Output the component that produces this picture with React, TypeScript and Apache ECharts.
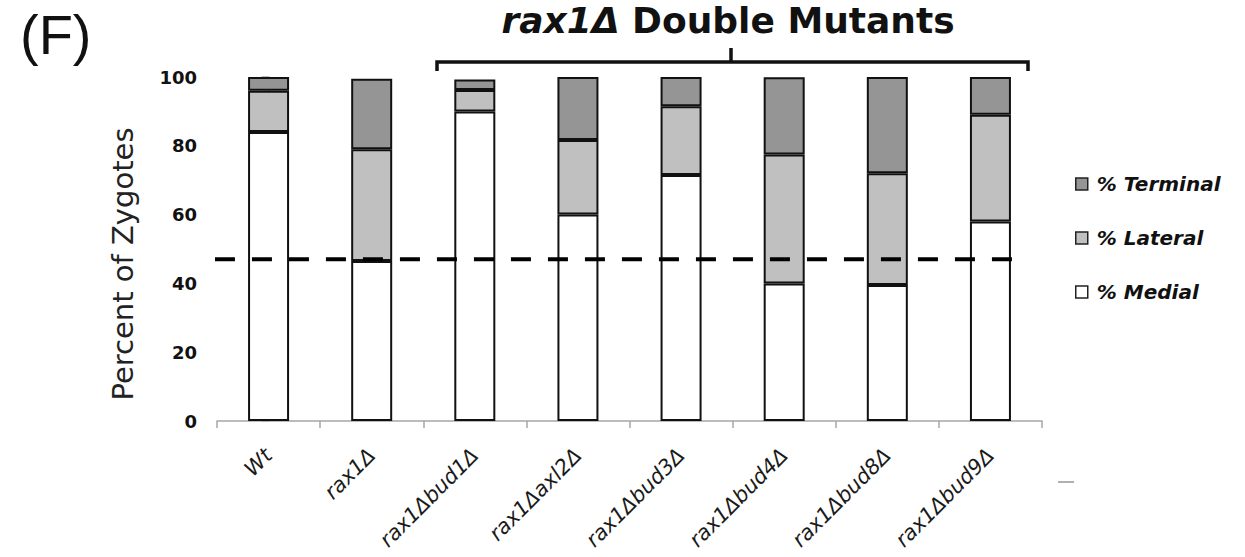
import React, { useEffect, useRef } from "react";
import * as echarts from "echarts";

const categories = [
  "Wt",
  "rax1Δ",
  "rax1Δbud1Δ",
  "rax1Δaxl2Δ",
  "rax1Δbud3Δ",
  "rax1Δbud4Δ",
  "rax1Δbud8Δ",
  "rax1Δbud9Δ",
];
const medial = [84, 46.5, 90, 60, 71.5, 40, 39.5, 58];
const lateral = [12, 32.5, 6.2, 21.7, 20, 37.5, 32.5, 31];
const terminal = [4, 20.5, 3.1, 18.3, 8.5, 22.4, 28, 11];
const threshold = 47;
const yTicks = { min: 0, max: 100, interval: 20 };
const legendOrder = ["% Terminal", "% Lateral", "% Medial"];
const titleItalic = "rax1Δ";
const titleRest = " Double Mutants";
const panelLabel = "(F)";
const yName = "Percent of Zygotes";

// dashed-line horizontal extent (in category units on a hidden value axis; style only)
const DASH_FROM = -0.52;
const DASH_TO = 7.27;

export default function App() {
  const ref = useRef<HTMLDivElement>(null);

  useEffect(() => {
    if (!ref.current) return;
    const chart = echarts.init(ref.current, undefined, { renderer: "svg" });
    const border = { borderColor: "#111", borderWidth: 2 };
    const barCommon = {
      type: "bar",
      stack: "total",
      barWidth: 41,
      xAxisIndex: 0,
      yAxisIndex: 0,
    };
    chart.setOption({
      animation: false,
      backgroundColor: "#ffffff",
      grid: { left: 217, right: 203, top: 77, bottom: 136, containLabel: false },
      legend: {
        orient: "vertical",
        left: 1070,
        top: 169,
        itemWidth: 12,
        itemHeight: 12,
        itemGap: 34,
        icon: "rect",
        data: legendOrder,
        textStyle: {
          fontFamily: "DejaVu Sans",
          fontWeight: "bold",
          fontStyle: "italic",
          fontSize: 20,
          color: "#111",
          padding: [0, 0, 0, 4],
        },
        itemStyle: { borderColor: "#222", borderWidth: 1.5 },
      },
      xAxis: [
        {
          type: "category",
          data: categories,
          axisLine: { lineStyle: { color: "#a6a6a6", width: 1.5 } },
          axisTick: { show: true, length: 7, lineStyle: { color: "#a6a6a6", width: 1.5 } },
          axisLabel: {
            rotate: 45,
            margin: 31,
            interval: 0,
            fontFamily: "DejaVu Sans",
            fontStyle: "italic",
            fontSize: 21,
            color: "#1a1a1a",
          },
        },
        {
          type: "value",
          min: -0.5,
          max: 7.5,
          show: false,
        },
      ],
      yAxis: {
        type: "value",
        min: yTicks.min,
        max: yTicks.max,
        interval: yTicks.interval,
        axisLine: { show: true, lineStyle: { color: "#a6a6a6", width: 1.5 } },
        axisTick: { show: true, length: 7, lineStyle: { color: "#a6a6a6", width: 1.5 } },
        splitLine: { show: false },
        axisLabel: {
          margin: 20,
          fontFamily: "DejaVu Sans",
          fontWeight: "bold",
          fontSize: 18,
          color: "#111",
        },
      },
      series: [
        {
          ...barCommon,
          name: "% Medial",
          data: medial,
          itemStyle: { color: "#ffffff", ...border },
        },
        {
          ...barCommon,
          name: "% Lateral",
          data: lateral,
          itemStyle: { color: "#c0c0c0", ...border },
        },
        {
          ...barCommon,
          name: "% Terminal",
          data: terminal,
          itemStyle: { color: "#959595", ...border },
        },
        {
          type: "line",
          name: "threshold",
          xAxisIndex: 1,
          yAxisIndex: 0,
          data: [
            [DASH_FROM, threshold],
            [DASH_TO, threshold],
          ],
          symbol: "none",
          clip: false,
          silent: true,
          z: 10,
          lineStyle: { color: "#000", width: 4, type: [20, 17] },
        },
      ],
      graphic: [
        {
          type: "text",
          left: 20,
          top: 6,
          style: {
            text: panelLabel,
            fontFamily: "Liberation Sans",
            fontSize: 56,
            fill: "#111",
          },
        },
        {
          type: "text",
          x: 123,
          y: 264,
          rotation: Math.PI / 2,
          style: {
            text: yName,
            align: "center",
            verticalAlign: "middle",
            fontFamily: "DejaVu Sans",
            fontSize: 29,
            fill: "#222",
          },
        },
        {
          type: "text",
          x: 728,
          y: 2,
          style: {
            text: `{i|${titleItalic}}{b|${titleRest}}`,
            align: "center",
            verticalAlign: "top",
            rich: {
              i: {
                fontFamily: "DejaVu Sans",
                fontWeight: "bold",
                fontStyle: "italic",
                fontSize: 36,
                fill: "#111",
              },
              b: {
                fontFamily: "DejaVu Sans",
                fontWeight: "bold",
                fontSize: 36,
                fill: "#111",
              },
            },
          },
        },
        {
          type: "polyline",
          shape: {
            points: [
              [437, 71],
              [437, 62],
              [1028, 62],
              [1028, 71],
            ],
          },
          style: { stroke: "#111", lineWidth: 3.5, fill: null },
        },
        {
          type: "line",
          shape: { x1: 731, y1: 62, x2: 731, y2: 48 },
          style: { stroke: "#111", lineWidth: 3.5 },
        },
        {
          type: "line",
          shape: { x1: 1058, y1: 482, x2: 1074, y2: 482 },
          style: { stroke: "#b0b0b0", lineWidth: 2 },
        },
      ],
    });
    return () => chart.dispose();
  }, []);

  return (
    <div
      ref={ref}
      style={{ position: "fixed", left: 0, top: 0, width: 1245, height: 557 }}
    />
  );
}
